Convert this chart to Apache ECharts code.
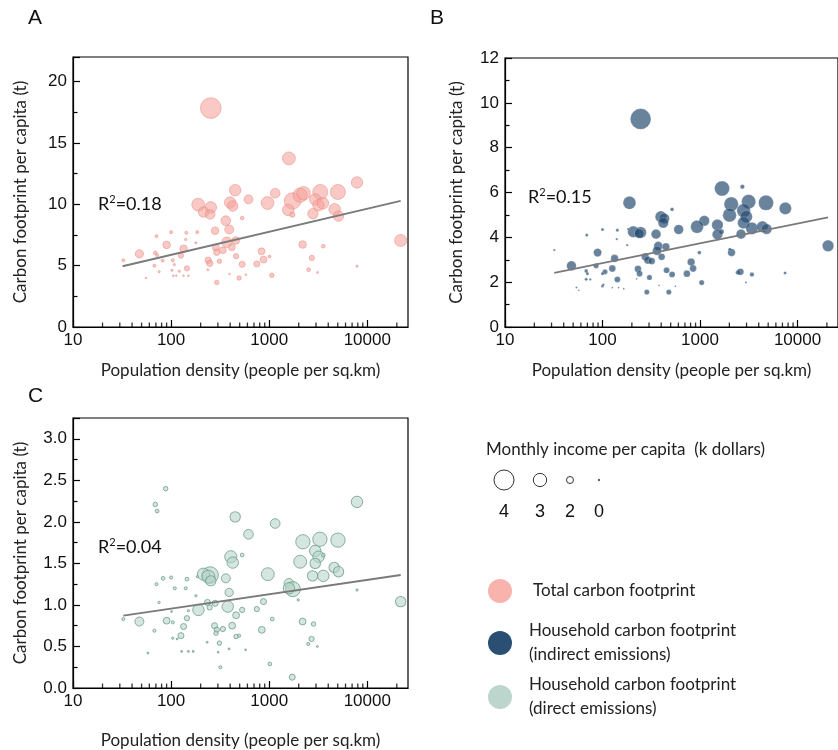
<!DOCTYPE html>
<html>
<head>
<meta charset="utf-8">
<script src="https://cdn.jsdelivr.net/npm/echarts@6/dist/echarts.min.js"></script>
<style>
  html, body { margin: 0; padding: 0; background: #fff; }
  #main { width: 838px; height: 750px; }
</style>
</head>
<body>
<div id="main"></div>
<script>
// [population density, carbon footprint (t), monthly income (k dollars)]
var totalPts = [
  [254,17.84,3.75],[1589,13.74,2.7],[7850,11.78,2.5],[450,11.15,2.5],[1151,10.9,2.25],
  [615,10.4,2.15],[189,9.97,2.7],[254,9.75,2.5],[400,10.14,2.5],[425,9.86,2.35],
  [214,9.37,2.35],[250,9.18,2.25],[962,10.1,2.7],[1730,10.27,3.2],[1563,9.54,2.5],
  [1720,9.15,1.15],[2070,10.74,2.9],[2240,10.9,2.8],[3315,11.0,3.0],[2945,10.4,2.5],
  [3185,9.92,2.5],[3530,10.08,2.5],[2790,9.23,2.35],[5020,11.0,3.0],[4650,9.59,2.5],
  [5090,9.04,2.35],[21900,7.05,2.6],[361,8.66,2.25],[391,7.95,2.15],[530,8.88,0.65],
  [281,7.84,1.9],[370,6.91,2.35],[457,7.05,1.9],[416,6.5,1.65],[286,6.48,1.65],
  [292,6.09,1.5],[337,6.26,1.65],[90,6.69,1.9],[134,6.37,1.9],[126,5.82,1.15],
  [47.5,5.96,2.05],[239,5.44,1.5],[248,5.19,1.5],[311,5.36,0.9],[460,5.77,1.15],
  [530,5.11,1.4],[145,4.78,1.15],[748,5.14,1.4],[836,6.17,1.65],[875,5.49,1.65],
  [1007,5.74,0.45],[1064,4.21,0.9],[2190,6.72,1.9],[2720,5.63,1.15],[3560,6.58,0.65],
  [2520,4.67,0.65],[3110,4.45,0.1],[7850,4.95,0.2],[494,3.99,0.9],[292,3.63,0.9],
  [578,4.26,0],[394,4.32,0],[237,4.67,0.1],[32.6,5.44,0.45],[67.6,5.0,0.45],
  [75.5,4.51,0.2],[69,6.04,0.65],[72,5.87,0.45],[71,7.4,0.45],[82,5.41,0.45],
  [100,7.73,0.45],[104,5.44,0.45],[108,5.08,0.2],[102,4.62,0.2],[143,7.68,0.45],
  [141,7.13,0.2],[179,6.86,0.2],[185,7.73,0.45],[121,4.54,0.2],[105,4.18,0.1],
  [113,4.18,0],[134,4.18,0],[150,4.18,0],[55.5,3.99,0]
];
var indirectPts = [
  [246,9.28,3.75],[1682,6.18,3.0],[2718,6.26,0.9],[189,5.54,2.7],[2089,5.48,2.9],
  [3150,5.59,2.9],[4750,5.54,3.0],[7500,5.29,2.6],[517,5.25,0.65],[2010,4.99,2.8],
  [2800,5.19,2.8],[2985,4.92,2.6],[397,4.92,2.5],[430,4.84,2.35],[420,4.65,2.35],
  [1106,4.74,2.35],[932,4.47,2.7],[1508,4.55,2.5],[2800,4.65,2.6],[3404,4.4,2.6],
  [4365,4.47,2.5],[4820,4.37,2.35],[604,4.35,2.25],[207,4.25,2.5],[246,4.22,2.5],
  [238,4.17,2.25],[354,4.14,2.25],[1508,4.13,2.35],[1655,4.25,1.15],[2635,4.14,2.25],
  [20560,3.62,2.5],[373,3.61,2.15],[447,3.58,1.9],[362,3.4,2.15],[404,3.13,1.65],
  [2105,3.32,1.9],[2020,3.47,0.45],[985,3.32,0.65],[274,3.13,1.9],[292,2.98,1.9],
  [320,2.94,1.65],[133,3.06,1.9],[89,3.32,2.05],[32,3.43,0.2],[48,2.73,2.25],
  [86,2.73,1.15],[126,2.61,1.65],[106,2.46,1.15],[68,2.5,0.65],[70,2.38,0.45],
  [100,2.38,0.45],[231,2.59,1.65],[240,2.38,1.4],[454,2.53,1.4],[517,2.34,1.4],
  [733,2.38,1.65],[811,2.9,1.9],[849,2.61,1.65],[2438,2.43,0.9],[2594,2.46,1.65],
  [3404,2.34,0.9],[7450,2.41,0.45],[1040,1.98,1.15],[142,2.12,1.4],[68,2.13,0.45],
  [75,2.12,0.2],[100,1.83,0.45],[102,1.89,0.2],[303,2.21,1.15],[285,1.56,1.15],
  [479,1.56,1.15],[54,1.76,0.1],[57,1.64,0],[126,1.76,0],[146,1.76,0],
  [165,1.71,0],[380,1.86,0],[559,1.82,0],[2960,1.98,0.1],[69,4.1,0.45],
  [100,4.35,0.45],[142,4.32,0.45],[140,3.92,0.2],[179,3.65,0.2],[183,4.37,0.2],
  [224,2.15,0]
];
var directPts = [
  [88,2.4,0.9],[69,2.21,0.9],[72,2.13,0.65],[450,2.06,2.35],[1151,1.98,2.25],
  [7850,2.24,2.5],[615,1.85,2.25],[2206,1.76,2.9],[3288,1.79,2.9],[5020,1.78,2.9],
  [2945,1.65,2.5],[3185,1.58,2.5],[3560,1.6,0.65],[406,1.58,2.6],[425,1.51,2.5],
  [530,1.6,0.65],[2070,1.52,2.7],[2945,1.5,2.35],[4600,1.45,2.35],[5090,1.4,2.35],
  [2768,1.35,2.35],[3560,1.35,2.5],[968,1.37,2.7],[1589,1.26,2.25],[1742,1.19,3.0],
  [1589,1.2,2.5],[250,1.36,3.2],[214,1.37,2.6],[240,1.34,2.7],[254,1.29,2.35],
  [361,1.32,2.15],[391,1.15,2.05],[378,0.98,2.5],[190,0.94,2.5],[235,1.03,1.4],
  [247,0.97,1.15],[281,1.02,1.4],[460,0.875,1.65],[530,0.94,1.15],[748,0.95,1.15],
  [875,1.04,1.4],[1074,0.83,0.65],[2190,0.8,1.65],[2830,0.77,0.9],[21900,1.04,2.35],
  [47.5,0.8,2.15],[90,0.81,1.65],[104,0.79,0.45],[145,0.84,1.15],[134,0.74,1.4],
  [126,0.63,1.4],[277,0.75,1.4],[292,0.7,1.15],[287,0.66,0.9],[337,0.71,1.15],
  [419,0.75,1.65],[460,0.62,0.9],[494,0.63,0.45],[841,0.7,1.65],[311,0.54,0.9],
  [2703,0.59,1.15],[2500,0.53,0.45],[3100,0.5,0.1],[1016,0.29,0.65],[1718,0.13,1.4],
  [318,0.25,0.45],[32.6,0.83,0.45],[67.6,0.69,0.45],[75.5,1.03,0.2],[71,1.25,0.45],
  [83,1.32,0.65],[100,1.33,0.45],[145,1.31,0.65],[109,1.2,0.45],[141,1.2,0.45],
  [179,1.11,0.2],[185,1.34,0.2],[104,0.6,0.2],[115,0.59,0],[150,0.93,0.2],
  [101,0.92,0],[233,0.55,0.1],[58,0.42,0],[128,0.44,0],[150,0.44,0],
  [168,0.44,0],[302,0.43,0],[390,0.47,0],[574,0.46,0],[1977,1.06,0.2],
  [7850,1.18,0.2]
];

// fitted lines (end points)
var fitTotal = [[32, 4.95], [21900, 10.27]];
var fitIndirect = [[32, 2.41], [20560, 4.89]];
var fitDirect = [[32.6, 0.87], [21900, 1.36]];
var r2Labels = ['0.18', '0.15', '0.04'];

var densityMinor = [20,30,40,50,60,70,80,90,200,300,400,500,600,700,800,900,
  2000,3000,4000,5000,6000,7000,8000,9000,20000];
var incomeLegend = [4, 3, 2, 0];

// income -> bubble diameter
var sizeStops = [[0, 1.5], [2, 7], [3, 13.3], [4, 20]];
function sizeFor(inc) {
  for (var i = 1; i < sizeStops.length; i++) {
    var a = sizeStops[i - 1], b = sizeStops[i];
    if (inc <= b[0]) return a[1] + (inc - a[0]) / (b[0] - a[0]) * (b[1] - a[1]);
  }
  return sizeStops[sizeStops.length - 1][1];
}
var bubbleScale = 1.13;

var tickFont = 'Liberation Sans';
var textFont = 'Lato';

function xAxisFor(i, gap) {
  return {
    type: 'log', logBase: 10, gridIndex: i, min: 10, max: 26000,
    axisLine: { lineStyle: { color: '#000', width: 1.2 } },
    axisTick: { inside: true, length: 7, lineStyle: { color: '#000', width: 1.2 } },
    splitLine: { show: false },
    axisLabel: {
      formatter: function (v) { return String(Math.round(v)); },
      showMaxLabel: false, fontFamily: tickFont, fontSize: 17, color: '#111', margin: 5
    },
    name: 'Population density (people per sq.km)', nameLocation: 'middle', nameGap: gap,
    nameTextStyle: { fontFamily: textFont, fontSize: 17, color: '#222' }
  };
}

function yAxisFor(i, max, interval, digits, gap) {
  return {
    type: 'value', gridIndex: i, min: 0, max: max, interval: interval,
    axisLine: { show: true, lineStyle: { color: '#000', width: 1.2 } },
    axisTick: { show: true, inside: true, length: 7, lineStyle: { color: '#000', width: 1.2 } },
    minorTick: { show: true, splitNumber: 2, length: 4.5, lineStyle: { color: '#000', width: 1.2 } },
    splitLine: { show: false },
    axisLabel: {
      formatter: function (v) { return v.toFixed(digits); },
      showMaxLabel: max % interval === 0, fontFamily: tickFont, fontSize: 17, color: '#111', margin: 6
    },
    name: 'Carbon footprint per capita (t)', nameLocation: 'middle', nameGap: gap,
    nameTextStyle: { fontFamily: textFont, fontSize: 17, color: '#222' }
  };
}

function bubbles(i, data, fill, border, bw) {
  return {
    type: 'scatter', xAxisIndex: i, yAxisIndex: i, data: data,
    symbolSize: function (d) { return sizeFor(d[2]) * bubbleScale; },
    itemStyle: { color: fill, borderColor: border, borderWidth: bw },
    silent: true
  };
}

function fitLine(i, data) {
  return {
    type: 'line', xAxisIndex: i, yAxisIndex: i, data: data, showSymbol: false,
    lineStyle: { color: '#7a7a7a', width: 1.8 }, z: 5, silent: true
  };
}

// log-axis minor ticks (2..9 in each decade), drawn as small bars standing on the axis
function minorTicks(i) {
  return {
    type: 'scatter', xAxisIndex: i, yAxisIndex: i, silent: true, z: 6,
    data: densityMinor.map(function (v) { return [v, 0]; }),
    symbol: 'rect', symbolSize: [1.3, 4.5], symbolOffset: [0, -2.2],
    itemStyle: { color: '#000' }
  };
}

function r2Text(left, top, val) {
  return {
    type: 'text', left: left, top: top,
    style: {
      text: 'R{s|2}=' + val, fontFamily: textFont, fontSize: 18, fill: '#111',
      rich: { s: { fontFamily: textFont, fontSize: 11, fill: '#111', padding: [0, 0, 9, 0] } }
    }
  };
}

var chart = echarts.init(document.getElementById('main'));

var legendGraphics = [
  { type: 'text', left: 486, top: 441, style: { text: 'Monthly income per capita  (k dollars)', fontFamily: textFont, fontSize: 17, fill: '#222' } }
];
var legendX = [504, 540, 570, 599];
incomeLegend.forEach(function (inc, k) {
  legendGraphics.push({ type: 'circle', shape: { cx: legendX[k], cy: 480, r: sizeFor(inc) / 2 },
    style: { fill: '#fff', stroke: '#333', lineWidth: 1 } });
  legendGraphics.push({ type: 'text', x: legendX[k], y: 512,
    style: { text: String(inc), fontFamily: tickFont, fontSize: 18, fill: '#111', align: 'center', verticalAlign: 'middle' } });
});
var colorLegend = [
  { c: '#f7b3ac', y: 591, lines: ['Total carbon footprint'], tx: 533 },
  { c: '#2a4f73', y: 643, lines: ['Household carbon footprint', '(indirect emissions)'], tx: 529 },
  { c: '#bcd6cd', y: 697, lines: ['Household carbon footprint', '(direct emissions)'], tx: 529 }
];
colorLegend.forEach(function (it) {
  legendGraphics.push({ type: 'circle', shape: { cx: 500, cy: it.y, r: 12 }, style: { fill: it.c } });
  legendGraphics.push({ type: 'text', x: it.tx, y: it.y,
    style: { text: it.lines.join('\n'), fontFamily: textFont, fontSize: 17, lineHeight: 24, fill: '#222', verticalAlign: 'middle' } });
});

var option = {
  backgroundColor: '#fff',
  animation: false,
  grid: [
    { left: 73, top: 57, width: 335, height: 270, show: true, borderColor: '#000', borderWidth: 1.2 },
    { left: 505, top: 58, width: 340, height: 269, show: true, borderColor: '#000', borderWidth: 1.2 },
    { left: 73, top: 418, width: 335, height: 270, show: true, borderColor: '#000', borderWidth: 1.2 }
  ],
  xAxis: [xAxisFor(0, 35), xAxisFor(1, 35), xAxisFor(2, 44)],
  yAxis: [yAxisFor(0, 22, 5, 0, 44), yAxisFor(1, 12, 2, 0, 40), yAxisFor(2, 3.25, 0.5, 1, 44)],
  series: [
    bubbles(0, totalPts, 'rgba(244,162,154,0.72)', 'rgba(232,140,134,0.85)', 0.8),
    bubbles(1, indirectPts, 'rgba(36,74,112,0.86)', 'rgba(255,255,255,0.45)', 0.6),
    bubbles(2, directPts, 'rgba(184,213,202,0.75)', '#6e9d8a', 1),
    fitLine(0, fitTotal), fitLine(1, fitIndirect), fitLine(2, fitDirect),
    minorTicks(0), minorTicks(1), minorTicks(2)
  ],
  graphic: [
    { type: 'text', left: 28, top: 8, style: { text: 'A', fontFamily: tickFont, fontSize: 21, fill: '#111' } },
    { type: 'text', left: 430, top: 8, style: { text: 'B', fontFamily: tickFont, fontSize: 21, fill: '#111' } },
    { type: 'text', left: 28, top: 386, style: { text: 'C', fontFamily: tickFont, fontSize: 21, fill: '#111' } },
    r2Text(98, 194, r2Labels[0]),
    r2Text(528, 187, r2Labels[1]),
    r2Text(98, 537, r2Labels[2])
  ].concat(legendGraphics)
};

chart.setOption(option);
</script>
</body>
</html>
